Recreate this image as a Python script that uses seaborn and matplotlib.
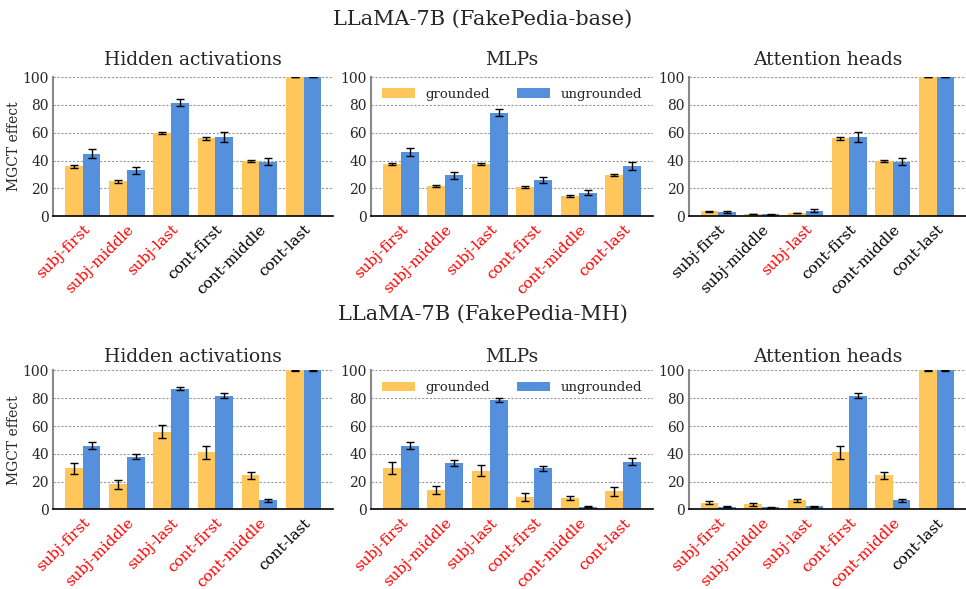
import matplotlib
matplotlib.use("Agg")
import matplotlib.pyplot as plt
import seaborn as sns
import pandas as pd

# data
positions = ["subj-first", "subj-middle", "subj-last", "cont-first", "cont-middle", "cont-last"]
panels = ["Hidden activations", "MLPs", "Attention heads"]
rows = ["LLaMA-7B (FakePedia-base)", "LLaMA-7B (FakePedia-MH)"]

# FakePedia-base
base_hidden_g = [36, 25, 60, 56, 39.5, 100]
base_hidden_g_err = [1, 0.8, 0.7, 1, 0.8, 0.2]
base_hidden_u = [45, 33, 81.5, 57, 39, 100]
base_hidden_u_err = [3, 2.5, 2.5, 3.5, 2.5, 0.2]
base_mlp_g = [37.5, 21.5, 37.5, 21, 14.5, 29.5]
base_mlp_g_err = [1, 0.7, 1, 0.8, 0.4, 0.8]
base_mlp_u = [46, 29.5, 74.5, 26, 17, 36]
base_mlp_u_err = [3, 2.5, 2.5, 2.5, 2, 2.7]
base_attn_g = [3.5, 1.5, 2.3, 56, 39.5, 100]
base_attn_g_err = [0.4, 0.3, 0.3, 1, 0.8, 0.2]
base_attn_u = [3, 1.5, 3.8, 57, 39, 100]
base_attn_u_err = [1, 0.4, 1, 3.5, 2.5, 0.2]

# FakePedia-MH
mh_hidden_g = [29.5, 18, 56, 41, 24.5, 100]
mh_hidden_g_err = [4, 3, 4.5, 4.5, 2.5, 0.2]
mh_hidden_u = [46, 38, 87, 82, 6.5, 100]
mh_hidden_u_err = [2.5, 2, 1.3, 1.5, 1, 0.2]
mh_mlp_g = [30, 14, 28, 9, 8, 13]
mh_mlp_g_err = [4.5, 3, 4, 3, 1.5, 3.5]
mh_mlp_u = [46, 33.5, 79, 29.5, 2, 34.5]
mh_mlp_u_err = [2.5, 2, 1.5, 1.8, 0.3, 2.3]
mh_attn_g = [5, 3.8, 6.5, 41, 24.5, 100]
mh_attn_g_err = [1.3, 1, 1.3, 4.5, 2.5, 0.2]
mh_attn_u = [2, 1.5, 2.3, 82, 6.5, 100]
mh_attn_u_err = [0.5, 0.5, 0.5, 1.5, 1, 0.2]

# which tick labels are red (1)
red_labels = [
    [[1, 1, 1, 0, 0, 0], [1, 1, 1, 1, 1, 1], [0, 0, 1, 0, 0, 0]],
    [[1, 1, 1, 1, 1, 0], [1, 1, 1, 1, 1, 1], [1, 1, 1, 1, 1, 0]],
]

series = [
    [(base_hidden_g, base_hidden_g_err, base_hidden_u, base_hidden_u_err),
     (base_mlp_g, base_mlp_g_err, base_mlp_u, base_mlp_u_err),
     (base_attn_g, base_attn_g_err, base_attn_u, base_attn_u_err)],
    [(mh_hidden_g, mh_hidden_g_err, mh_hidden_u, mh_hidden_u_err),
     (mh_mlp_g, mh_mlp_g_err, mh_mlp_u, mh_mlp_u_err),
     (mh_attn_g, mh_attn_g_err, mh_attn_u, mh_attn_u_err)],
]

sns.set_style("white")
plt.rcParams["font.family"] = ["DejaVu Serif"]

colors = {"grounded": "#FFC65C", "ungrounded": "#5490DB"}

fig = plt.figure(figsize=(9.66, 5.89), dpi=100)

lefts = [0.055, 0.384, 0.713]
widths = [0.29, 0.292, 0.287]
bottoms = [0.633, 0.135]
height = 0.236

for r in range(2):
    fig.text(0.5, [0.968, 0.466][r], rows[r], ha="center", va="center", fontsize=15)
    for c in range(3):
        ax = fig.add_axes([lefts[c], bottoms[r], widths[c], height])
        g, g_err, u, u_err = series[r][c]
        df = pd.DataFrame({
            "position": positions * 2,
            "group": ["grounded"] * 6 + ["ungrounded"] * 6,
            "value": g + u,
        })
        errs = g_err + u_err
        sns.barplot(data=df, x="position", y="value", hue="group",
                    order=positions, hue_order=["grounded", "ungrounded"],
                    palette=colors, saturation=1, errorbar=None, width=0.8,
                    linewidth=0, ax=ax, zorder=2)
        # error bars at the bar centres seaborn placed
        bars = ax.patches[:12]
        for p, e in zip(bars, errs):
            ax.errorbar(p.get_x() + p.get_width() / 2, p.get_height(), yerr=e,
                        fmt="none", ecolor="black", elinewidth=1, capsize=3,
                        capthick=1, zorder=3)
        ax.set_ylim(0, 100)
        ax.set_xlim(-0.67, 5.67)
        ax.set_yticks([0, 20, 40, 60, 80, 100])
        ax.yaxis.grid(True, linestyle=(0, (2, 1.5)), color="#999999", linewidth=0.8)
        ax.set_axisbelow(True)
        ax.set_title(panels[c], fontsize=13.5, pad=[9, 6][r])
        ax.set_xlabel("")
        ax.set_ylabel("MGCT effect" if c == 0 else "", fontsize=10, labelpad=1)
        ax.set_xticks(range(6))
        ax.set_xticklabels(positions, rotation=45, ha="right",
                           rotation_mode="anchor", fontsize=11)
        for lab, red in zip(ax.get_xticklabels(), red_labels[r][c]):
            lab.set_color("red" if red else "black")
        ax.tick_params(axis="x", length=3, width=0.8, color="black", pad=1.5)
        ax.tick_params(axis="y", length=0, labelsize=10, pad=3)
        sns.despine(ax=ax)
        ax.spines["left"].set_color("#888888")
        ax.spines["left"].set_linewidth(1.5)
        ax.spines["bottom"].set_color("black")
        ax.spines["bottom"].set_linewidth(1.2)
        if c == 1:
            ax.legend(loc="upper center", ncol=2, frameon=False, fontsize=9.5,
                      bbox_to_anchor=(0.5, 1.01), columnspacing=2.0,
                      handlelength=2.5)
        else:
            leg = ax.get_legend()
            if leg is not None:
                leg.remove()

fig.savefig("out.png", dpi=100)
